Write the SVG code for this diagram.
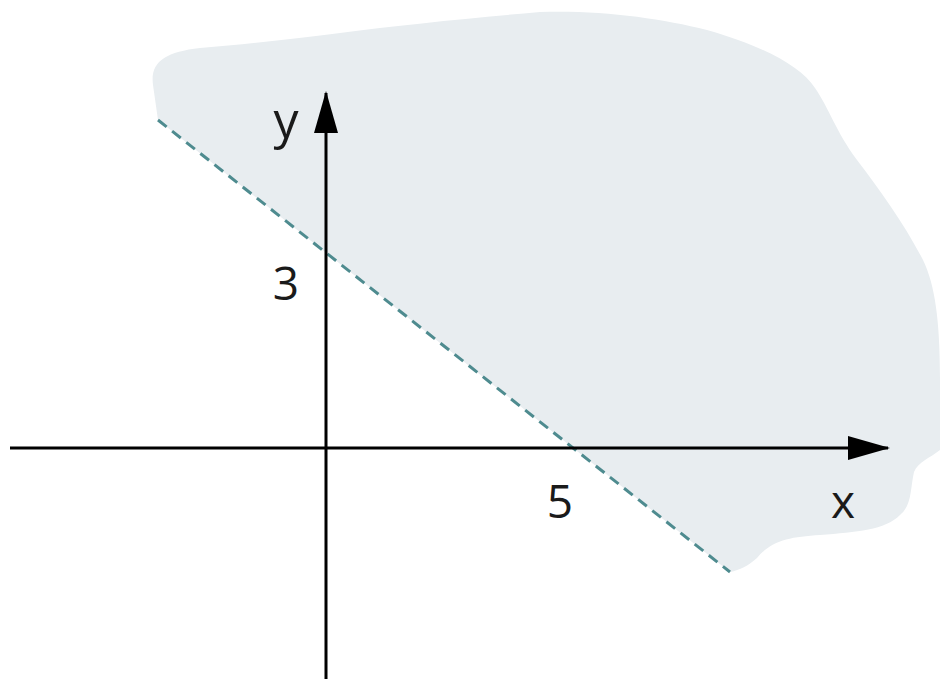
<svg xmlns="http://www.w3.org/2000/svg" width="942" height="679" viewBox="0 0 942 679">
<style>
.lbl{font-family:"Open Sans","DejaVu Sans",sans-serif;font-size:46px;fill:#1a1a1a;text-anchor:middle}
.axis{stroke:#000;stroke-width:3;fill:none}
.bound{stroke:#4e8b8f;stroke-width:3;stroke-dasharray:11 7;fill:none}
</style>
<defs>
<marker id="ah" viewBox="0 0 42 24" refX="40" refY="12" markerWidth="42" markerHeight="24" markerUnits="userSpaceOnUse" orient="auto">
<path d="M0,0 L42,12 L0,24 Z" fill="#000"/>
</marker>
</defs>
<g id="region">
<path d="M158,120 L153,85 C150,62 165,52 200,48 C250,44 300,38 340,33 C400,25 470,18 540,12 C600,10 660,18 707,30 C760,45 800,65 815,88 C830,110 835,130 857,160 C880,190 905,225 923,260 C935,285 940,320 940,380 L940,450 C930,458 918,462 914,472 C910,490 912,505 900,515 C885,530 857,532 820,535 C790,537 772,540 757,558 C748,566 740,570 730,572 Z" fill="#e8edf0"/>
</g>
<g id="connectors">
<line id="boundary" class="bound" x1="158" y1="120" x2="730" y2="572"/>
<line id="x-axis" class="axis" x1="10" y1="448" x2="888" y2="448" marker-end="url(#ah)"/>
<line id="y-axis" class="axis" x1="326" y1="679" x2="326" y2="93" marker-end="url(#ah)"/>
</g>
<g id="labels">
<text class="lbl" x="286" y="138" style="font-size:50px">y</text>
<text class="lbl" x="286" y="300">3</text>
<text class="lbl" x="560" y="518">5</text>
<text class="lbl" x="843" y="518">x</text>
</g>
</svg>
